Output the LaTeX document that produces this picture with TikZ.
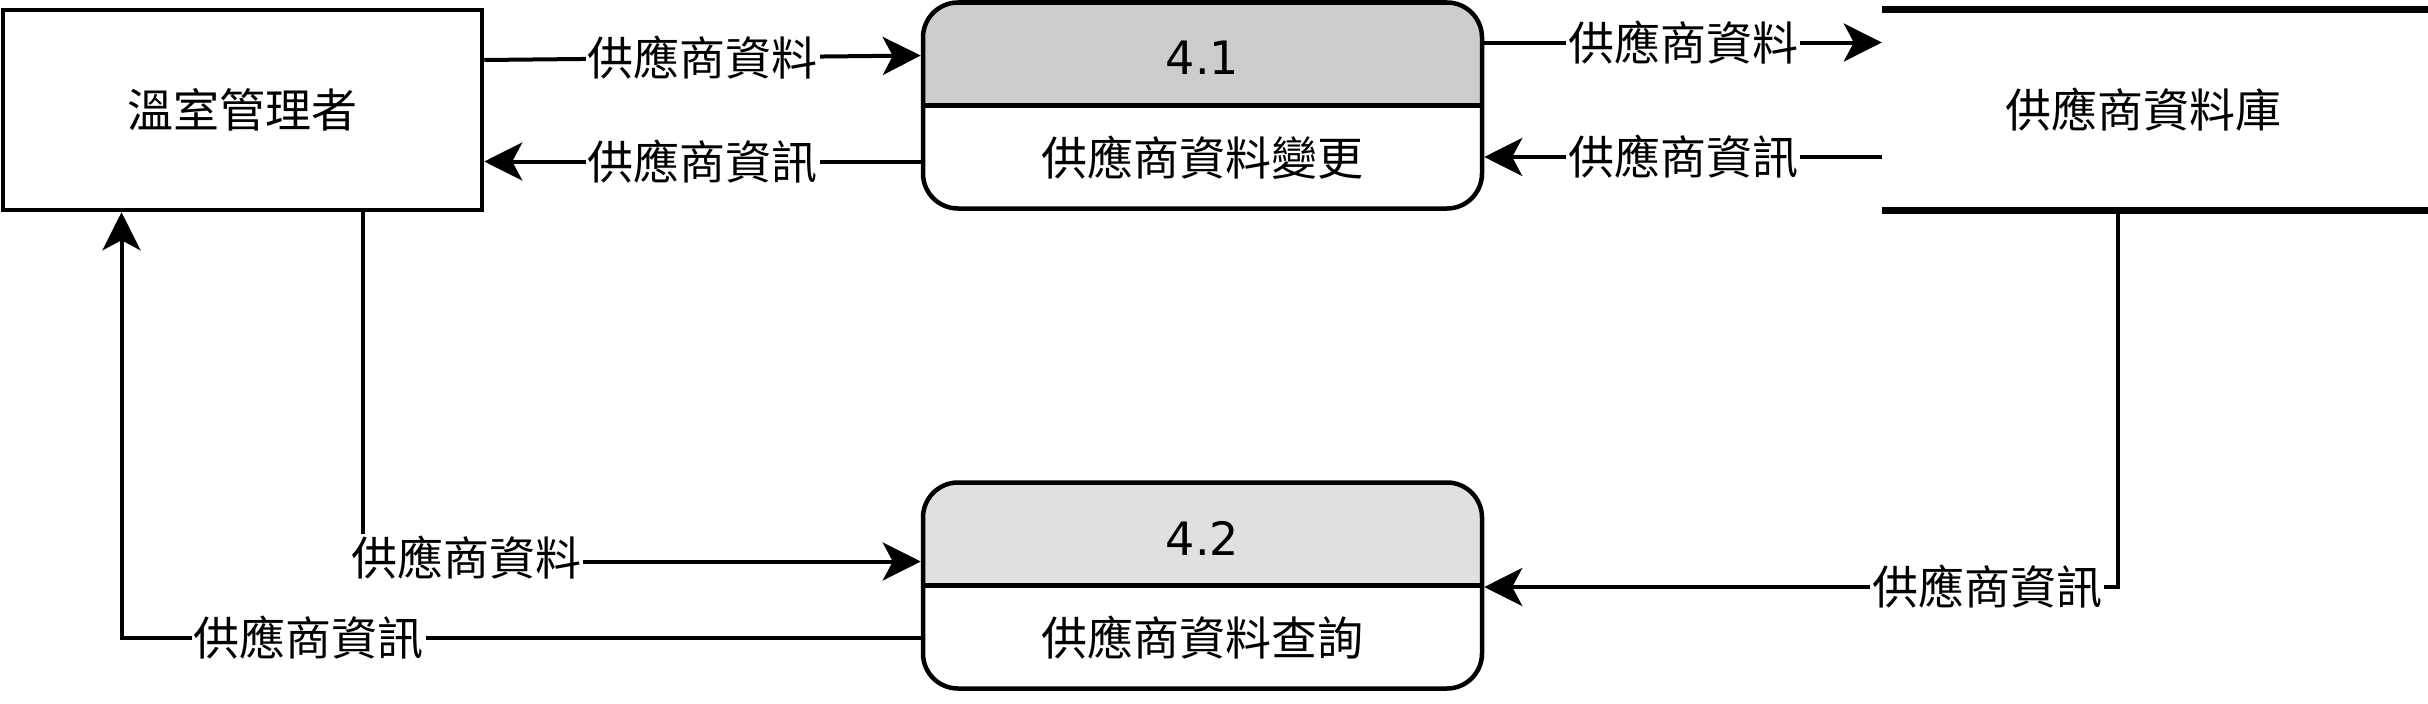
\documentclass[tikz,border=0pt]{standalone}
\usepackage{fontspec}
\setmainfont{Noto Sans CJK TC}
\newfontfamily\numfont{DejaVu Sans}
\usetikzlibrary{arrows.meta,calc}
\definecolor{hdrA}{HTML}{CCCCCC}
\definecolor{hdrB}{HTML}{E0E0E0}
\tikzset{
  ent/.style={draw, line width=4.5pt, minimum width=479pt, minimum height=200pt, inner sep=0pt},
  proc/.style={draw, line width=4.5pt, rounded corners=35pt, minimum width=559pt, minimum height=206pt, inner sep=0pt,
    path picture={
      \fill[#1, sharp corners] (path picture bounding box.north west) rectangle (path picture bounding box.east);
      \draw[line width=4.5pt, sharp corners] (path picture bounding box.west) -- (path picture bounding box.east);
    }},
  store/.style={minimum width=546pt, minimum height=200pt, inner sep=0pt},
  storeline/.style={line width=7pt},
  arr/.style={line width=4pt, -{Stealth[length=38pt, width=38pt, inset=10pt]}},
  lbl/.style={fill=white, inner sep=2pt},
  txt/.style={inner sep=0pt},
  numtxt/.style={inner sep=0pt, font=\numfont\fontsize{46pt}{55pt}\selectfont}
}
\begin{document}
\begin{tikzpicture}[x=1pt, y=-1pt, font=\fontsize{46pt}{55pt}\selectfont]
\useasboundingbox (0,0) rectangle (2428,704);
% nodes
\node[ent] (e) at (242.5,110) {溫室管理者};
\node[proc=hdrA] (p41) at (1202.5,105.5) {};
\node[numtxt] (t41) at (1202.5,58) {4.1};
\node[txt] (n41) at (1202.5,158) {供應商資料變更};
\node[proc=hdrB] (p42) at (1202.5,585.5) {};
\node[numtxt] (t42) at (1202.5,538) {4.2};
\node[txt] (n42) at (1202.5,638) {供應商資料查詢};
\node[store] (ds) at (2155,110) {};
\node[txt] (dst) at (2143,110) {供應商資料庫};
\draw[storeline] (ds.north west) -- (ds.north east);
\draw[storeline] (ds.south west) -- (ds.south east);
% connectors
\draw[arr] ([yshift=50pt]e.east) -- node[lbl] {供應商資料} ([yshift=50pt]p41.west);
\draw[arr] ([yshift=-56pt]p41.west) -- node[lbl] {供應商資訊} ([yshift=-56pt]p41.west -| e.east);
\draw[arr] ([yshift=63pt]p41.east) -- node[lbl] {供應商資料} ([yshift=63pt]p41.east -| ds.west);
\draw[arr] ([yshift=-47pt]ds.west) -- node[lbl] {供應商資訊} ([yshift=-47pt]ds.west -| p41.east);
\draw[arr] ([xshift=120pt]e.south) |- node[lbl, pos=0.593, yshift=4pt] {供應商資料} ([yshift=24pt]p42.west);
\draw[arr] ([yshift=-52pt]p42.west) -| node[lbl, pos=0.383] {供應商資訊} ([xshift=-121pt]e.south);
\draw[arr] ([xshift=-37pt,yshift=-3pt]ds.south) |- node[lbl, pos=0.603] {供應商資訊} ([yshift=-1.5pt]p42.east);
\end{tikzpicture}
\end{document}
